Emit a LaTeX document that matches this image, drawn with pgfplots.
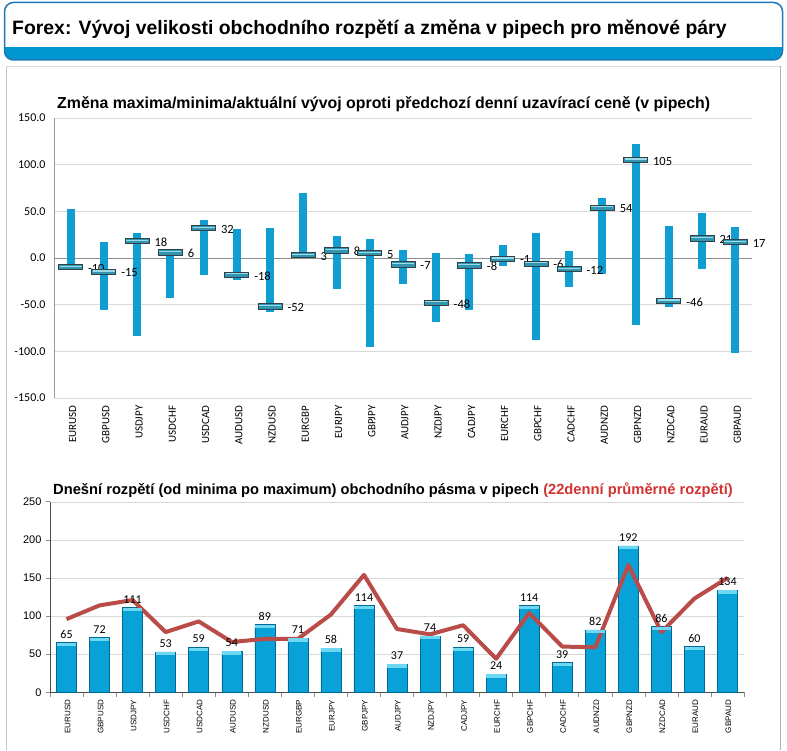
\documentclass[border=0pt]{standalone}
\usepackage{pgfplots}
\pgfplotsset{compat=1.18}
\usepackage{pgfplotstable}
\usepackage{fontspec}
\setmainfont{Liberation Sans}
\newfontfamily\calibri{Carlito}

\definecolor{hdrblue}{RGB}{0,150,208}
\definecolor{hdrborder}{RGB}{30,120,185}
\definecolor{barblue}{RGB}{16,158,210}
\definecolor{barblue2}{RGB}{8,162,216}
\definecolor{bardark}{RGB}{0,105,150}
\definecolor{barcap}{RGB}{110,215,242}
\definecolor{linered}{RGB}{185,75,72}
\definecolor{titlered}{RGB}{210,50,50}
\definecolor{gridgray}{RGB}{217,217,217}
\definecolor{mkfill}{RGB}{50,150,178}
\definecolor{mkhi}{RGB}{150,220,235}
\definecolor{mkedge}{RGB}{50,65,70}

\pgfplotstableread{
x name lo hi cur
0 EURUSD -12 52 -10
1 GBPUSD -56 17 -15
2 USDJPY -84 27 18
3 USDCHF -43 10 6
4 USDCAD -18 41 32
5 AUDUSD -24 31 -18
6 NZDUSD -58 32 -52
7 EURGBP 0 70 3
8 EURJPY -33 24 8
9 GBPJPY -95 20 5
10 AUDJPY -28 9 -7
11 NZDJPY -69 5 -48
12 CADJPY -56 4 -8
13 EURCHF -9 14 -1
14 GBPCHF -88 27 -6
15 CADCHF -31 7 -12
16 AUDNZD -17 64 54
17 GBPNZD -72 122 105
18 NZDCAD -52 34 -46
19 EURAUD -12 48 21
20 GBPAUD -102 33 17
}\toptable

\pgfplotstableread{
x name today avg
0 EURUSD 65 96
1 GBPUSD 72 114
2 USDJPY 111 121
3 USDCHF 53 79
4 USDCAD 59 93
5 AUDUSD 54 66
6 NZDUSD 89 70
7 EURGBP 71 70
8 EURJPY 58 102
9 GBPJPY 114 154
10 AUDJPY 37 83
11 NZDJPY 74 76
12 CADJPY 59 88
13 EURCHF 24 44
14 GBPCHF 114 104
15 CADCHF 39 60
16 AUDNZD 82 59
17 GBPNZD 192 167
18 NZDCAD 86 79
19 EURAUD 60 123
20 GBPAUD 134 150
}\bottable

\pgfdeclareplotmark{curbar}{%
  \pgfsetlinewidth{0.9pt}%
  \pgfsetfillcolor{mkfill}\pgfsetstrokecolor{mkedge}%
  \pgfpathrectangle{\pgfpoint{-12pt}{-2.6pt}}{\pgfpoint{24pt}{5.2pt}}%
  \pgfusepath{fill,stroke}%
  \pgfsetfillcolor{mkhi}%
  \pgfpathrectangle{\pgfpoint{-11pt}{0.3pt}}{\pgfpoint{22pt}{1.2pt}}%
  \pgfusepath{fill}%
}
\pgfdeclareplotmark{barcap}{%
  \pgfsetfillcolor{barcap}%
  \pgfpathrectangle{\pgfpoint{-9.7pt}{-3.5pt}}{\pgfpoint{19.4pt}{3.2pt}}%
  \pgfusepath{fill}%
}

\begin{document}
\begin{tikzpicture}
\useasboundingbox (0,0) rectangle (787pt,750pt);
\fill[white] (0,0) rectangle (787pt,750pt);
% panel
\draw[gray!45, line width=0.8pt] (6pt,0) -- (6pt,684pt);
\draw[gray!30, line width=0.6pt] (6pt,684pt) -- (780pt,684pt);
\draw[gray!60, line width=1pt] (780pt,0) -- (780pt,684pt);
% header
\begin{scope}
\clip[rounded corners=9pt] (4.5pt,690pt) rectangle (782.5pt,747.5pt);
\fill[white] (0,690pt) rectangle (787pt,750pt);
\fill[hdrblue] (0,690pt) rectangle (787pt,703pt);
\end{scope}
\draw[hdrborder, line width=1.5pt, rounded corners=9pt] (4.5pt,690pt) rectangle (782.5pt,747.5pt);
\node[anchor=west, inner sep=0pt, font=\bfseries\fontsize{19.4}{19.4}\selectfont] at (12pt,721pt) {Forex: Vývoj velikosti obchodního rozpětí a změna v pipech pro měnové páry};

% top title
\node[anchor=west, inner sep=0pt, font=\bfseries\fontsize{15.9}{15.9}\selectfont] at (57pt,646pt) {Změna maxima/minima/aktuální vývoj oproti předchozí denní uzavírací ceně (v pipech)};

\begin{axis}[
  at={(54pt,352pt)}, anchor=south west, scale only axis,
  width=698pt, height=280pt,
  xmin=-0.5, xmax=20.5, ymin=-150, ymax=150,
  ytick={-150,-100,...,150},
  xtick={0,...,20},
  xticklabels from table={\toptable}{name},
  major tick length=0pt,
  axis lines*=left,
  x axis line style={gridgray},
  y axis line style={gray!80},
  ymajorgrids, grid style={gridgray},
  yticklabel style={font=\calibri\fontsize{12}{12}\selectfont, xshift=-5pt,
    /pgf/number format/.cd, fixed, fixed zerofill, precision=1, assume math mode=true},
  xticklabel style={font=\calibri\fontsize{11}{11}\selectfont, rotate=90, anchor=east, yshift=-2pt, xshift=-4pt},
  clip=false,
]
\draw[gray!90, line width=0.8pt] (axis cs:-0.5,0) -- (axis cs:20.5,0);
\addplot[draw=none, mark=none,
  error bars/.cd, y dir=plus, y explicit, error mark=none,
  error bar style={line width=8pt, draw=barblue, solid}]
  table[x=x, y=lo, y error expr=\thisrow{hi}-\thisrow{lo}] {\toptable};
\addplot[only marks, mark=curbar,
  nodes near coords, point meta=explicit symbolic,
  every node near coord/.style={anchor=west, xshift=16pt, yshift=-1pt, inner sep=1pt,
    font=\calibri\fontsize{12.5}{12.5}\selectfont, text=black}]
  table[x=x, y=cur, meta=cur] {\toptable};
\end{axis}

% bottom title
\node[anchor=west, inner sep=0pt, font=\bfseries\fontsize{14.7}{14.7}\selectfont] at (53pt,260pt) {Dnešní rozpětí (od minima po maximum) obchodního pásma v pipech \textcolor{titlered}{(22denní průměrné rozpětí)}};

\begin{axis}[
  at={(50pt,57.7pt)}, anchor=south west, scale only axis,
  width=694pt, height=190.6pt,
  xmin=-0.5, xmax=20.5, ymin=0, ymax=250,
  ytick={0,50,...,250},
  xtick={0,...,20},
  xticklabels from table={\bottable}{name},
  minor xtick={-0.5,0.5,...,20.5},
  tick align=outside,
  xtick style={draw=none},
  minor x tick style={draw=gray!90, line width=0.6pt},
  minor tick length=5pt,
  ytick style={draw=gray!90, line width=0.6pt},
  major tick length=4pt,
  axis lines*=left,
  axis line style={draw=black!70, line width=0.8pt},
  ymajorgrids, grid style={gridgray},
  yticklabel style={font=\fontsize{11}{11}\selectfont, xshift=-1pt,
    /pgf/number format/assume math mode=true},
  xticklabel style={font=\fontsize{8}{8}\selectfont, rotate=90, anchor=east, yshift=-1pt},
  clip=false,
]
\addplot[ybar, bar width=20pt, draw=bardark, line width=0.5pt, fill=barblue2,
  nodes near coords, point meta=explicit symbolic,
  every node near coord/.style={anchor=south, yshift=3pt, inner sep=1pt,
    font=\calibri\fontsize{12}{12}\selectfont, text=black}]
  table[x=x, y=today, meta=today] {\bottable};
\addplot[only marks, mark=barcap] table[x=x, y=today] {\bottable};
\addplot[linered, line width=4pt, line join=round, mark=none] table[x=x, y=avg] {\bottable};
\end{axis}
\end{tikzpicture}
\end{document}
